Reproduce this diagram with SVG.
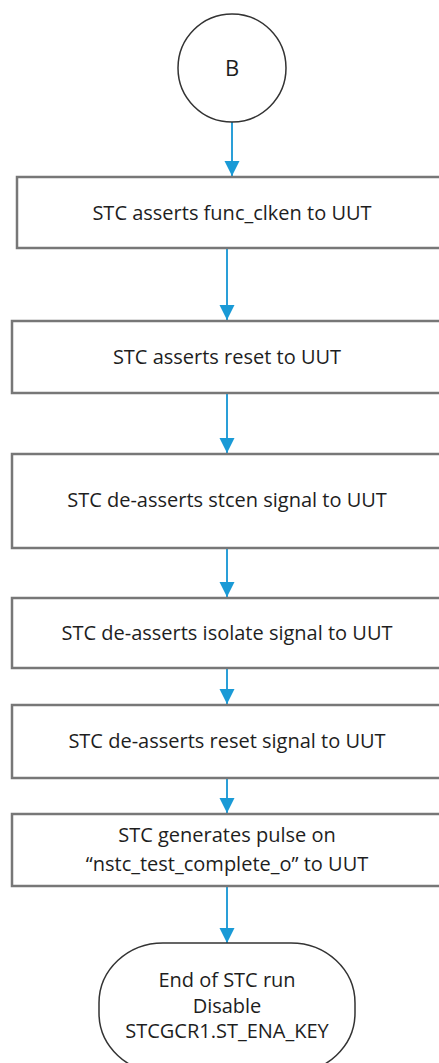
<svg xmlns="http://www.w3.org/2000/svg" width="439" height="1063" viewBox="0 0 439 1063">
<style>
.box{fill:#fff;stroke:#777;stroke-width:2.5}
.term{fill:#fff;stroke:#333;stroke-width:1.5}
.t{font-family:"Open Sans","Noto Sans",sans-serif;font-size:20px;fill:#1e1e1e;text-anchor:middle}
.c{stroke:#2a9fd8;stroke-width:2;fill:none}
</style>
<defs>
<marker id="ah" markerUnits="userSpaceOnUse" markerWidth="16" markerHeight="16" refX="15" refY="7.5" orient="auto">
<path d="M0,0 L15,7.5 L0,15 Z" fill="#1a9ad6"/>
</marker>
</defs>
<rect width="439" height="1063" fill="#fff"/>
<g id="connectors">
<line class="c" x1="232" y1="122" x2="232" y2="176" marker-end="url(#ah)"/>
<line class="c" x1="227" y1="249" x2="227" y2="320" marker-end="url(#ah)"/>
<line class="c" x1="227" y1="394" x2="227" y2="453" marker-end="url(#ah)"/>
<line class="c" x1="227" y1="549" x2="227" y2="597" marker-end="url(#ah)"/>
<line class="c" x1="227" y1="669" x2="227" y2="704" marker-end="url(#ah)"/>
<line class="c" x1="227" y1="779" x2="227" y2="813" marker-end="url(#ah)"/>
<line class="c" x1="227" y1="887" x2="227" y2="943" marker-end="url(#ah)"/>
</g>
<g id="nodeB">
<circle class="term" cx="232" cy="68" r="54"/>
<text class="t" x="232" y="76" style="font-size:22px">B</text>
</g>
<g id="n1">
<rect class="box" x="17" y="177" width="430" height="71"/>
<text class="t" x="232" y="220">STC asserts func_clken to UUT</text>
</g>
<g id="n2">
<rect class="box" x="12" y="321" width="430" height="72"/>
<text class="t" x="227" y="364">STC asserts reset to UUT</text>
</g>
<g id="n3">
<rect class="box" x="12" y="454" width="430" height="94"/>
<text class="t" x="227" y="507">STC de-asserts stcen signal to UUT</text>
</g>
<g id="n4">
<rect class="box" x="12" y="598" width="430" height="70"/>
<text class="t" x="227" y="640">STC de-asserts isolate signal to UUT</text>
</g>
<g id="n5">
<rect class="box" x="12" y="705" width="430" height="73"/>
<text class="t" x="227" y="748">STC de-asserts reset signal to UUT</text>
</g>
<g id="n6">
<rect class="box" x="12" y="814" width="430" height="72"/>
<text class="t" x="227" y="842">STC generates pulse on</text>
<text class="t" x="227" y="871">“nstc_test_complete_o” to UUT</text>
</g>
<g id="end">
<rect class="term" x="99" y="943" width="256" height="130" rx="64" ry="60"/>
<text class="t" x="227" y="987">End of STC run</text>
<text class="t" x="227" y="1013">Disable</text>
<text class="t" x="227" y="1038">STCGCR1.ST_ENA_KEY</text>
</g>
</svg>
